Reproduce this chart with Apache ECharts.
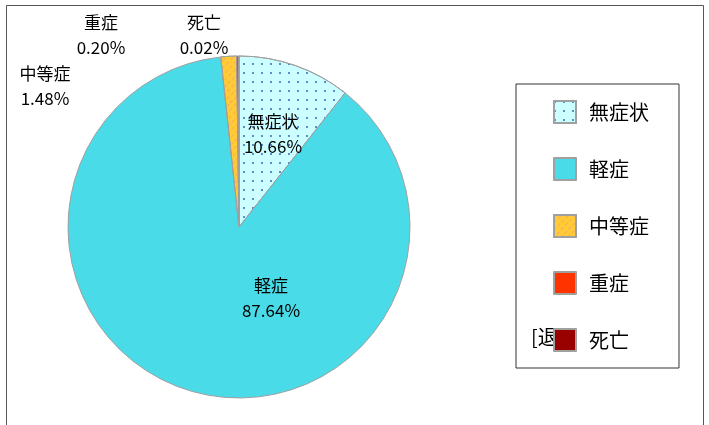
<!DOCTYPE html>
<html><head><meta charset="utf-8">
<script src="https://cdn.jsdelivr.net/npm/echarts@6/dist/echarts.min.js"></script>
<style>html,body{margin:0;padding:0;background:#fff}#c{width:709px;height:425px}</style>
</head><body><div id="c"></div>
<script>
const categories = ['無症状', '軽症', '中等症', '重症', '死亡'];
const values = [10.66, 87.64, 1.48, 0.20, 0.02];
const colors = ['#ccffff', '#4adbe8', '#ffcc33', '#ff3300', '#990000'];

const FONT = '"Noto Sans CJK JP", sans-serif';
const labelPos = [[273, 134], [271, 298], [45, 86], [101, 35], [204, 35]];
const decals = {
  '無症状': { symbol: 'circle', symbolSize: 1, color: '#3a66c0', dashArrayX: [[2, 7]], dashArrayY: [2, 6.5], rotation: 0 },
  '中等症': { symbol: 'rect', symbolSize: 1, color: '#ffa566', dashArrayX: [[4, 1.5]], dashArrayY: [1, 4], rotation: -Math.PI / 4 }
};

const data = categories.map((n, i) => {
  const item = { name: n, value: values[i], itemStyle: { color: colors[i] } };
  if (decals[n]) item.itemStyle.decal = decals[n];
  return item;
});

const chart = echarts.init(document.getElementById('c'), null, { renderer: 'canvas' });
chart.setOption({
  animation: false,
  backgroundColor: '#fff',
  graphic: [
    { type: 'rect', z: 0, shape: { x: 6.5, y: 5.5, width: 697, height: 440 }, style: { fill: 'none', stroke: '#555', lineWidth: 1 } },
    { type: 'text', z: 1, left: 531, top: 327, style: { text: '[退', font: '20px ' + FONT, fill: '#000' } }
  ],
  legend: {
    orient: 'vertical',
    left: 516, top: 84,
    z: 5,
    padding: [16, 30, 16, 37],
    itemGap: 33,
    itemWidth: 22, itemHeight: 22,
    icon: 'rect',
    borderColor: '#333', borderWidth: 1,
    textStyle: { fontFamily: FONT, fontSize: 20, color: '#000', padding: [0, 0, 0, 8] },
    data: categories
  },
  series: [{
    type: 'pie',
    center: [239, 227],
    radius: 171,
    startAngle: 90,
    clockwise: true,
    avoidLabelOverlap: false,
    itemStyle: { borderColor: '#a0a0a0', borderWidth: 1 },
    label: {
      show: true,
      position: 'inside',
      fontFamily: FONT, fontSize: 17, color: '#000', lineHeight: 25,
      formatter: p => p.name + '\n' + p.value.toFixed(2) + '%'
    },
    labelLine: { show: false },
    labelLayout: p => {
      const pos = labelPos[p.dataIndex];
      return { x: pos[0], y: pos[1], align: 'center', verticalAlign: 'middle' };
    },
    emphasis: { disabled: true },
    data: data
  }]
});
</script></body></html>
